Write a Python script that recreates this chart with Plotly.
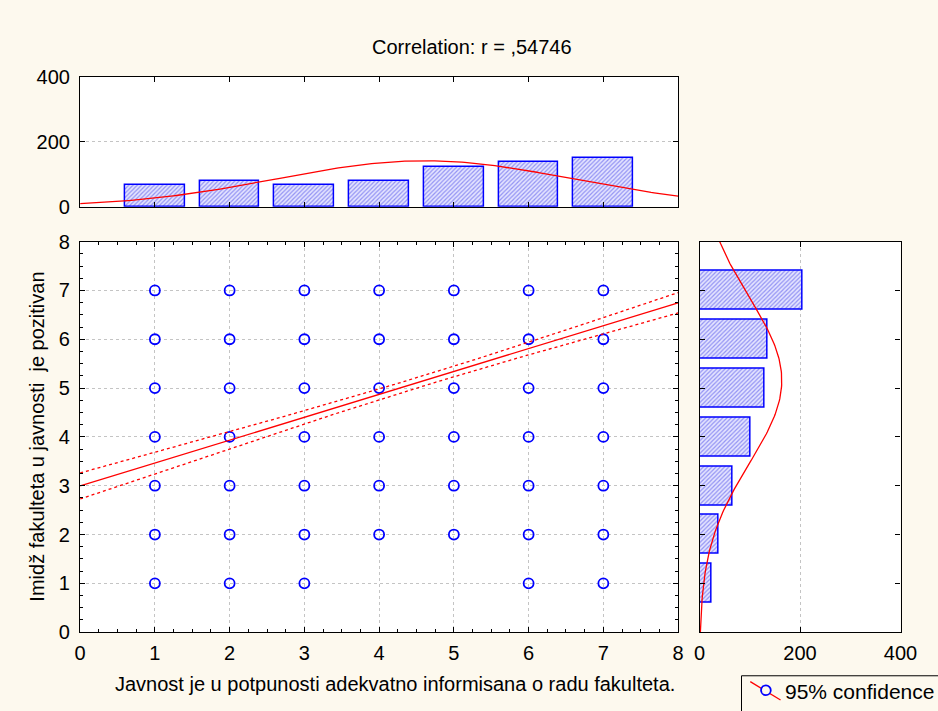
import numpy as np
import plotly.graph_objects as go

# ---------------- data ----------------
x_levels = [1, 2, 3, 4, 5, 6, 7]
x_counts = [66, 80, 66, 80, 122, 137, 152]      # top histogram
y_levels = [1, 2, 3, 4, 5, 6, 7]
y_counts = [23, 37, 66, 101, 129, 135, 205]     # right histogram
missing_pairs = [(4, 1), (5, 1)]                 # combinations not observed
r_value = 0.54746
title_text = "Correlation: r = ,54746"
x_title = "Javnost je u potpunosti adekvatno informisana o radu fakulteta."
y_title = "Imidž fakulteta u javnosti  je pozitivan"
legend_text = "95% confidence"

# ---------------- derived statistics ----------------
xl = np.array(x_levels, float); xc = np.array(x_counts, float)
yl = np.array(y_levels, float); yc = np.array(y_counts, float)
nx, ny = xc.sum(), yc.sum()
mx = (xl * xc).sum() / nx; sx = np.sqrt((xc * (xl - mx) ** 2).sum() / nx)
my = (yl * yc).sum() / ny; sy = np.sqrt((yc * (yl - my) ** 2).sum() / ny)
slope = r_value * sy / sx
intercept = my - slope * mx
n = nx
s_res = sy * np.sqrt(1 - r_value ** 2) * np.sqrt(n / (n - 2))
sxx = n * sx ** 2
t_crit = 1.9634

xs = np.linspace(0, 8, 200)
fit = intercept + slope * xs
hw = t_crit * s_res * np.sqrt(1 / n + (xs - mx) ** 2 / sxx)

curve_x = nx / (sx * np.sqrt(2 * np.pi)) * np.exp(-(xs - mx) ** 2 / (2 * sx ** 2))
ys = np.linspace(0, 8, 200)
curve_y = ny / (sy * np.sqrt(2 * np.pi)) * np.exp(-(ys - my) ** 2 / (2 * sy ** 2))

pts_x, pts_y = [], []
for a in x_levels:
    for b in y_levels:
        if (a, b) not in missing_pairs:
            pts_x.append(a); pts_y.append(b)

# ---------------- figure ----------------
W, H = 938, 711
BG = "#FDF9EE"
BLUE = "#0000FF"
RED = "#FF0000"
FONT = "Liberation Sans, Arial, sans-serif"

fig = go.Figure()

bar_marker = dict(
    color="#C8C8F8",
    line=dict(color=BLUE, width=1.5),
    pattern=dict(shape="/", fgcolor="#4040E8", bgcolor="#E4E4FF", size=3, solidity=0.4),
)

# top histogram
fig.add_trace(go.Bar(x=x_levels, y=x_counts, width=0.8, marker=bar_marker,
                     xaxis="x2", yaxis="y2", showlegend=False))
fig.add_trace(go.Scatter(x=xs, y=curve_x, mode="lines", line=dict(color=RED, width=1.3),
                         xaxis="x2", yaxis="y2", showlegend=False))

# right histogram
fig.add_trace(go.Bar(y=y_levels, x=y_counts, width=0.8, orientation="h", marker=bar_marker,
                     xaxis="x3", yaxis="y3", showlegend=False))
fig.add_trace(go.Scatter(x=curve_y, y=ys, mode="lines", line=dict(color=RED, width=1.3),
                         xaxis="x3", yaxis="y3", showlegend=False))

# scatter
fig.add_trace(go.Scatter(x=pts_x, y=pts_y, mode="markers",
                         marker=dict(symbol="circle-open", size=10, color=BLUE,
                                     line=dict(width=1.8, color=BLUE)),
                         showlegend=False))
fig.add_trace(go.Scatter(x=xs, y=fit, mode="lines", line=dict(color=RED, width=1.3),
                         showlegend=False))
fig.add_trace(go.Scatter(x=xs, y=fit + hw, mode="lines", line=dict(color=RED, width=1.3, dash="dot"),
                         showlegend=False))
fig.add_trace(go.Scatter(x=xs, y=fit - hw, mode="lines", line=dict(color=RED, width=1.3, dash="dot"),
                         showlegend=False))

def px_x(p):
    return p / W

def px_y(p):
    return 1 - p / H

axis_common = dict(showline=True, linecolor="black", linewidth=1.3, mirror="ticks",
                   ticks="inside", tickcolor="black", ticklen=5, zeroline=False,
                   tickfont=dict(family=FONT, size=20, color="black"))
grid = dict(gridcolor="#C4C4C4", griddash="dot", gridwidth=1)
minor = dict(dtick=0.25, ticks="inside", ticklen=3, tickcolor="black", showgrid=False)

main_x_dom = [px_x(76), px_x(689)]
main_y_dom = [px_y(641), px_y(238)]

# legend box (partly outside the page, as in the original)
leg_shapes = [
    dict(type="rect", xref="paper", yref="paper", x0=px_x(754), x1=px_x(980),
         y0=px_y(730), y1=px_y(686), line=dict(color="black", width=1), fillcolor=BG, layer="above"),
    dict(type="line", xref="paper", yref="paper", x0=px_x(763), y0=px_y(692),
         x1=px_x(794), y1=px_y(711), line=dict(color=RED, width=1.3), layer="above"),
    dict(type="circle", xref="paper", yref="paper", x0=px_x(774), x1=px_x(784),
         y0=px_y(706), y1=px_y(696), line=dict(color=BLUE, width=1.8), fillcolor=BG, layer="above"),
]

fig.update_layout(
    width=W, height=H,
    margin=dict(l=0, r=0, t=0, b=0),
    paper_bgcolor=BG, plot_bgcolor="white",
    font=dict(family=FONT, size=20, color="black"),
    bargap=0,
    showlegend=False,
    xaxis=dict(domain=main_x_dom, range=[0, 8], dtick=1, showgrid=True, **grid,
               minor=minor, anchor="y", ticklabelstandoff=3, **axis_common),
    yaxis=dict(domain=main_y_dom, range=[0, 8], dtick=1, showgrid=True, **grid,
               minor=minor, anchor="x", ticklabelstandoff=5, **axis_common),
    xaxis2=dict(domain=main_x_dom, range=[0, 8], dtick=1, showticklabels=False, showgrid=False,
                anchor="y2", **axis_common),
    yaxis2=dict(domain=[px_y(202), px_y(68)], range=[0, 400], tickvals=[0, 200, 400],
                showgrid=True, **grid, anchor="x2", ticklabelstandoff=5, **axis_common),
    xaxis3=dict(domain=[px_x(711), px_x(917)], range=[0, 400], tickvals=[0, 200, 400],
                showgrid=True, **grid, anchor="y3", ticklabelstandoff=3, **axis_common),
    yaxis3=dict(domain=main_y_dom, range=[0, 8], dtick=1, showticklabels=False, showgrid=False,
                anchor="x3", **axis_common),
    shapes=leg_shapes,
    annotations=[
        dict(text=title_text, x=px_x(478), y=px_y(37), xref="paper", yref="paper",
             xanchor="center", yanchor="middle",
             showarrow=False, font=dict(family=FONT, size=20)),
        dict(text=x_title, x=px_x(399), y=px_y(694), xref="paper", yref="paper",
             xanchor="center", yanchor="middle",
             showarrow=False, font=dict(family=FONT, size=20)),
        dict(text=y_title, x=px_x(32), y=px_y(439), xref="paper", yref="paper",
             xanchor="center", yanchor="middle",
             showarrow=False, textangle=-90, font=dict(family=FONT, size=20)),
        dict(text=legend_text, x=px_x(797), y=px_y(702), xref="paper", yref="paper",
             xanchor="left", yanchor="middle",
             showarrow=False, font=dict(family=FONT, size=21)),
    ],
)

fig.write_html("out.html")
